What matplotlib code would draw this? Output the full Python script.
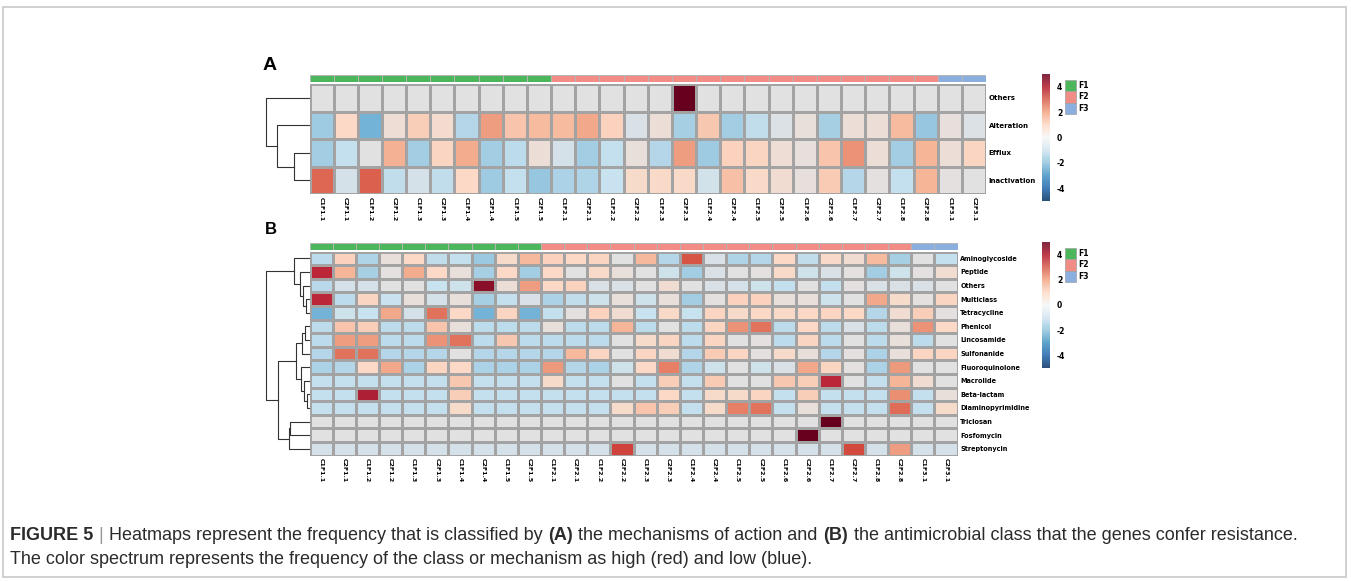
import numpy as np
import matplotlib
matplotlib.use('Agg')
import matplotlib.pyplot as plt
import matplotlib.cm as cm
from matplotlib.colors import LinearSegmentedColormap, ListedColormap, Normalize
from matplotlib.patches import Rectangle, Patch

plt.rcParams['axes.unicode_minus'] = False

# ---- data ----
samples = ['C1F1.1', 'C2F1.1', 'C1F1.2', 'C2F1.2', 'C1F1.3', 'C2F1.3', 'C1F1.4', 'C2F1.4',
           'C1F1.5', 'C2F1.5', 'C1F2.1', 'C2F2.1', 'C1F2.2', 'C2F2.2', 'C1F2.3', 'C2F2.3',
           'C1F2.4', 'C2F2.4', 'C1F2.5', 'C2F2.5', 'C1F2.6', 'C2F2.6', 'C1F2.7', 'C2F2.7',
           'C1F2.8', 'C2F2.8', 'C1F3.1', 'C2F3.1']
groups = ['F1'] * 10 + ['F2'] * 16 + ['F3'] * 2
group_names = ['F1', 'F2', 'F3']

# panel A: mechanisms of action
mech_rows = ['Others', 'Alteration', 'Efflux', 'Inactivation']
mech_others = [0, 0, 0, 0, 0, 0, 0, 0, 0, 0, 0, 0, 0, 0, 0, 5.5, 0, 0, 0, 0, 0, 0, 0, 0, 0, 0, 0, 0]
mech_alteration = [-2, 1, -3, 0.5, 1.3, 0.7, -1.5, 2.5, 1.6, 1.8, 1.8, 2.3, 1.2, -0.3, 0.4, -1.8,
                   1.5, -1.9, -1.2, -0.2, 0.3, -1.8, 0.4, 0.4, 1.8, -2.2, 0.2, -0.2]
mech_efflux = [-1.9, -1.1, 0, 2.1, -1.9, 1.1, 2.2, -1.9, -1.3, 0.4, -0.5, -1.9, -1.1, 0.3, -1.5, 2.5,
               -2, 1.2, 1.1, 0.5, 0.2, 1.6, 2.7, 0.4, -1.9, 2.0, 0.4, 1.1]
mech_inactivation = [3.5, -0.5, 3.6, -1.2, -0.5, -1.2, 1.0, -2, -1.1, -2.2, -1.7, -1.6, -1.0, 0.8, 0.9, 0.9,
                     -0.7, 1.7, 0.9, 0.6, 0.2, 1.4, -1.5, 0.1, -1.1, 2.0, 0.1, 0]

# panel B: antimicrobial class
class_rows = ['Aminoglycoside', 'Peptide', 'Others', 'Multiclass', 'Tetracycline', 'Phenicol',
              'Lincosamide', 'Sulfonanide', 'Fluoroquinolone', 'Macrolide', 'Beta-lactam',
              'Diaminopyrimidine', 'Triclosan', 'Fosfomycin', 'Streptonycin']
cls_amino = [-1.3, 1.2, -1.6, 0.3, 1.0, -1.2, -1.1, -2.1, 0.8, 1.9, 1.2, 1.0, 1.1, 0, 1.9, -1.5,
             3.8, -0.3, -1.6, -1.5, 1.0, -1.2, 0.9, 0.6, 1.8, -1.8, 0, -1.1]
cls_peptide = [4.5, 2.0, -1.8, 0.1, 2.2, 1.0, 0.3, -1.8, 1.0, -1.9, 1.0, 0, 0.9, 0.3, 0, -0.8,
               -1.9, -0.3, 0, 0.1, 0.9, -0.8, -0.3, 0.1, -1.9, -0.8, 0.1, 0.6]
cls_others = [-1.4, -0.5, -0.5, 0, 0, -1.0, -0.8, 4.8, 0.4, 2.5, 1.0, 1.2, -0.3, -0.3, 0, 0.6,
              0, -0.3, -0.5, -0.8, -1.1, 0, -1.1, 0.1, -0.3, -0.3, -0.3, 0]
cls_multiclass = [4.5, -1.3, 1.1, -1.0, 0.3, -0.5, 0.3, -1.8, -1.1, -0.3, -1.7, -1.2, -0.8, 0.3, -0.8, 0.3,
                  -1.9, 0.1, 1.2, 1.2, 0.3, 0.3, -0.8, 0, 2.3, 0.8, 0.1, 1.1]
cls_tetracycline = [-3, -0.8, -1.0, 2.3, -0.5, 3.3, 1.0, -3, 1.1, -3, -1.1, 0.1, 1.2, 0.6, -1.0, 0.9,
                    -1.0, 1.1, 0.8, 1.0, 0.9, 1.0, 1.1, 1.0, -1.5, 0.6, 1.3, 0.1]
cls_phenicol = [-1.3, 1.6, 1.3, -1.3, -1.3, 1.6, 0.3, -1.3, -1.3, -1.3, 0.3, -1.3, -1.3, 2.0, -1.3, 0,
                -1.3, 1.1, 2.7, 3.3, -1.3, 1.0, -1.3, -0.3, -1.3, 0.3, 2.7, 1.0]
cls_lincosamide = [-1.3, 2.5, 2.5, -1.3, -1.3, 2.7, 3.3, -1.3, 1.5, -1.3, -1.3, -1.3, -1.3, 0, 0.8, 1.1,
                   -1.3, 1.1, 0, 0.1, -1.3, 1.1, -1.3, 0, -1.3, 0.3, -1.3, 0]
cls_sulfonamide = [-1.5, 3.3, 3.3, -1.5, -1.5, -1.5, 0, -1.5, -1.5, -1.5, -1.5, 1.9, 1.1, 0, 1.1, 0.6,
                   -1.5, 1.4, 1.1, 0.1, 0.8, 0.3, -1.5, 0.1, -1.7, 0.3, 1.1, 1.1]
cls_fluoro = [-1.7, -1.5, 1.0, 2.3, -1.7, 1.1, 1.0, -1.7, -1.7, -1.7, 2.6, -1.5, -1.7, -0.8, 1.0, 3.1,
              -1.6, -0.8, 0, -0.8, -0.3, 2.3, 1.1, 0.1, -1.7, 2.6, 0, 0]
cls_macrolide = [-1.1, -1.1, -1.1, -1.1, -1.1, -1.1, 1.5, -1.1, -1.1, -1.1, 0.8, -1.1, -1.1, 0, -1.1, 1.3,
                 -1.1, 1.4, 0, 0, 1.5, 1.3, 4.5, 0, -1.1, 2.0, 0.6, 0]
cls_beta = [-1.1, -1.1, 4.6, -1.1, -1.1, -1.1, 1.3, -1.1, -1.1, -1.1, -1.1, -1.1, -1.1, -1.1, -1.1, 1.0,
            -1.1, 0.8, 0.8, 1.1, -1.1, 1.3, -1.1, -1.1, -1.1, 2.8, -1.1, 0.3]
cls_diamino = [-1.1, -1.1, -1.1, -1.1, -1.1, -1.1, 0.8, -1.1, -1.1, -1.1, -1.1, -1.1, -1.1, 0.8, 1.6, 1.3,
               -1.1, 0.8, 3.1, 3.3, -1.1, 0.3, -1.1, -1.1, -1.1, 3.4, -1.1, 0.8]
cls_triclosan = [0, 0, 0, 0, 0, 0, 0, 0, 0, 0, 0, 0, 0, 0, 0, 0, 0, 0, 0, 0, 0, 0, 5.5, 0, 0, 0, 0, 0]
cls_fosfomycin = [0, 0, 0, 0, 0, 0, 0, 0, 0, 0, 0, 0, 0, 0, 0, 0, 0, 0, 0, 0, 0, 5.5, 0, 0, 0, 0, 0, 0]
cls_strepto = [-0.5, -0.5, -0.5, -0.5, -0.5, -0.5, -0.5, -0.5, -0.5, -0.5, -0.5, -0.5, -0.5, 4.1,
               -0.5, -0.5, -0.5, -0.5, -0.5, -0.5, -0.5, -0.5, -0.5, 4.0, -0.5, 2.5, -0.5, -0.5]

# row dendrograms (left, right, merge height)
link_a = [(2, 3, 15.7), (1, 4, 32.3), (0, 5, 44)]
link_b = [(3, 4, 4), (2, 15, 7), (1, 16, 10), (0, 17, 16),
          (5, 6, 5), (7, 19, 8), (10, 11, 3), (9, 21, 6), (8, 22, 9), (20, 23, 14),
          (12, 13, 20), (14, 25, 21), (24, 26, 32), (18, 27, 44)]

mech_vals = np.array([mech_others, mech_alteration, mech_efflux, mech_inactivation])
class_vals = np.array([cls_amino, cls_peptide, cls_others, cls_multiclass, cls_tetracycline,
                       cls_phenicol, cls_lincosamide, cls_sulfonamide, cls_fluoro, cls_macrolide,
                       cls_beta, cls_diamino, cls_triclosan, cls_fosfomycin, cls_strepto])

# ---- styling ----
W, H = 1351, 581
fig = plt.figure(figsize=(W / 100, H / 100), dpi=100)

anchors = [(-5, '#2a5d96'), (-3, '#74b3d8'), (-2, '#9fcbe2'), (-1, '#c9e2ef'), (0, '#e1e1e2'),
           (1, '#fbd9c6'), (2, '#f6b698'), (3, '#e8866a'), (4, '#d34a3d'), (4.5, '#c0283a'),
           (5, '#67001f')]
heat_cmap = LinearSegmentedColormap.from_list('heat', [((v + 5) / 10, c) for v, c in anchors])
norm = Normalize(-5, 5)
group_cmap = ListedColormap(['#4cb65c', '#f28c87', '#8aaede'])


def px_axes(x0, y0, x1, y1):
    return fig.add_axes([x0 / W, 1 - y1 / H, (x1 - x0) / W, (y1 - y0) / H])


def clean(ax):
    for s in ax.spines.values():
        s.set_visible(False)
    ax.set_xticks([])
    ax.set_yticks([])


def draw_heat(box, vals, rows, row_fs):
    ax = px_axes(*box)
    ax.pcolormesh(vals, cmap=heat_cmap, norm=norm, edgecolors='#a3a3a3', linewidth=0.8)
    ax.set_xlim(0, vals.shape[1])
    ax.set_ylim(vals.shape[0], 0)
    clean(ax)
    ax.set_xticks(np.arange(len(samples)) + 0.5)
    ax.set_xticklabels(samples, rotation=270, fontsize=4.5, fontweight='bold')
    ax.yaxis.tick_right()
    ax.set_yticks(np.arange(len(rows)) + 0.5)
    ax.set_yticklabels(rows, fontsize=row_fs, fontweight='bold')
    ax.tick_params(length=0, pad=2)
    return ax


def draw_groups(box):
    ax = px_axes(*box)
    idx = np.array([[group_names.index(g) for g in groups]])
    ax.pcolormesh(idx, cmap=group_cmap, vmin=-0.5, vmax=2.5, edgecolors='#b5b5b5', linewidth=0.7)
    ax.set_xlim(0, len(groups))
    clean(ax)


def draw_dendro(box, links, n):
    ax = px_axes(*box)
    pos = {i: i + 0.5 for i in range(n)}
    hgt = {i: 0.0 for i in range(n)}
    for k, (a, b, h) in enumerate(links):
        ax.plot([hgt[a], h, h, hgt[b]], [pos[a], pos[a], pos[b], pos[b]], color='#333333', lw=0.8)
        pos[n + k] = (pos[a] + pos[b]) / 2
        hgt[n + k] = h
    ax.set_ylim(n, 0)
    ax.set_xlim(47.5, 0)
    ax.axis('off')


def draw_cbar(box, legend_y):
    cax = px_axes(*box)
    cb = fig.colorbar(cm.ScalarMappable(norm=norm, cmap='RdBu_r'), cax=cax, alpha=0.85)
    cb.set_ticks([-4, -2, 0, 2, 4])
    cb.ax.tick_params(length=0, pad=5, labelsize=5.5)
    for t in cb.ax.get_yticklabels():
        t.set_fontweight('bold')
    cb.outline.set_visible(False)
    handles = [Patch(facecolor=group_cmap(i), edgecolor='#a0a0a0', lw=0.5) for i in range(3)]
    fig.legend(handles, group_names, loc='upper left', bbox_to_anchor=(1065 / W, 1 - legend_y / H),
               frameon=False, prop={'size': 5.5, 'weight': 'bold'}, handlelength=1.45, handleheight=1.9,
               handletextpad=0.3, labelspacing=0, borderpad=0, borderaxespad=0)


# panel A
draw_groups((309.5, 74.5, 986, 81.5))
draw_heat((309.5, 84, 986, 194), mech_vals, mech_rows, 5)
draw_dendro((262, 84, 309.5, 194), link_a, len(mech_rows))
draw_cbar((1042, 74, 1050, 201), 80)

# panel B
draw_groups((309.5, 243.5, 957.5, 250.5))
draw_heat((309.5, 251.5, 957.5, 455.5), class_vals, class_rows, 4.7)
draw_dendro((262, 251.5, 309.5, 455.5), link_b, len(class_rows))
draw_cbar((1042, 242, 1050, 368), 248)

fig.text(270 / W, 1 - 65 / H, 'A', fontsize=14, fontweight='bold', family='Liberation Sans',
         ha='center', va='center')
fig.text(271 / W, 1 - 229 / H, 'B', fontsize=12, fontweight='bold', family='Liberation Sans',
         ha='center', va='center')

# caption with mixed weights
cap_font = 'Liberation Sans'
cap_color = '#2b2b2b'
renderer = fig.canvas.get_renderer()


def caption_line(pieces, x, y, size):
    probe = fig.text(0, 0, 'a a', fontsize=size, family=cap_font)
    probe2 = fig.text(0, 0, 'aa', fontsize=size, family=cap_font)
    gap = probe.get_window_extent(renderer).width - probe2.get_window_extent(renderer).width
    probe.remove()
    probe2.remove()
    for i, (txt, weight, color) in enumerate(pieces):
        t = fig.text(x / W, 1 - y / H, txt, fontsize=size, fontweight=weight, color=color,
                     family=cap_font, ha='left', va='center')
        x += t.get_window_extent(renderer).width + gap * 1.1


cap1 = [('FIGURE 5', 'bold', cap_color), ('|', 'normal', '#9a9a9a'),
        ('Heatmaps represent the frequency that is classified by', 'normal', cap_color),
        ('(A)', 'bold', cap_color), ('the mechanisms of action and', 'normal', cap_color),
        ('(B)', 'bold', cap_color),
        ('the antimicrobial class that the genes confer resistance.', 'normal', cap_color)]
cap2 = [('The color spectrum represents the frequency of the class or mechanism as high (red) and low (blue).',
         'normal', cap_color)]
caption_line(cap1, 10, 535, 13)
caption_line(cap2, 10, 560, 13)

fig.patches.append(Rectangle((3 / W, 1 - 577 / H), 1343 / W, 570 / H, transform=fig.transFigure,
                             fill=False, edgecolor='#c8c8c8', lw=1.2))

fig.savefig('out.png', dpi=100)
